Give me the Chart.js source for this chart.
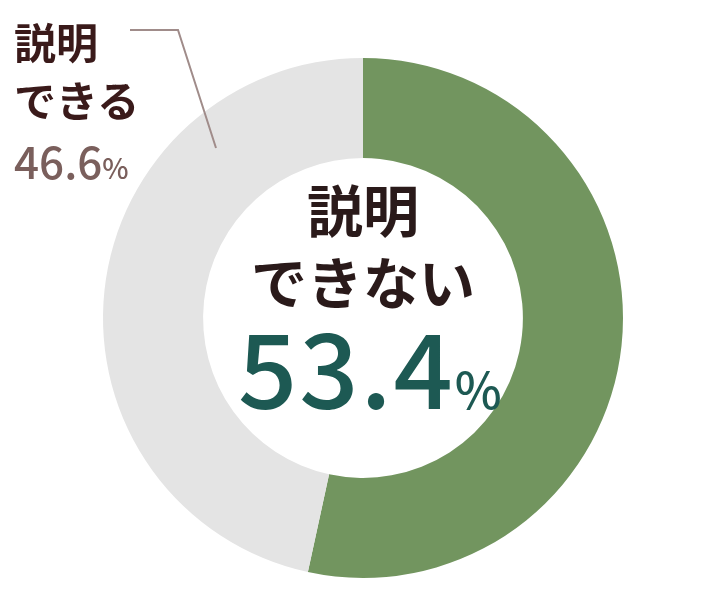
<!DOCTYPE html>
<html><head><meta charset="utf-8">
<script src="https://cdn.jsdelivr.net/npm/chart.js@4"></script>
<style>
body{margin:0;width:726px;height:600px;background:#fff;position:relative;overflow:hidden;font-family:"Noto Sans CJK JP",sans-serif;}
#c{position:absolute;left:0;top:0;}
.t{position:absolute;white-space:nowrap;font-weight:700;line-height:1;}
</style></head><body>
<canvas id="c" width="726" height="600"></canvas>
<svg style="position:absolute;left:0;top:0" width="726" height="600"><polyline points="130,30 178,30 216,148" fill="none" stroke="#a08c8a" stroke-width="2"/></svg>
<div class="t" style="left:14px;top:20px;font-size:42px;color:#3a1a1a">説明</div>
<div class="t" style="left:14px;top:78px;font-size:42px;color:#3a1a1a">できる</div>
<div class="t" style="left:14px;top:138px;font-size:44px;color:#7a5f5c;font-weight:500">46.6<span style="font-size:28px">%</span></div>
<div class="t" style="left:0;width:726px;text-align:center;top:180px;font-size:56px;color:#2a1a1a;">説明</div>
<div class="t" style="left:0;width:726px;text-align:center;top:252px;font-size:56px;color:#2a1a1a;">できない</div>
<div class="t" style="left:238px;top:312px;font-size:104px;color:#1d5953;font-weight:500;letter-spacing:2px">53.4<span style="font-size:50px">%</span></div>
<script>
const categories=["説明できない","説明できる"];
const values=[53.4,46.6];
const colors=["#72955f","#e4e4e4"];
new Chart(document.getElementById('c'),{type:'doughnut',
data:{labels:categories,datasets:[{data:values,backgroundColor:colors,borderWidth:0}]},
options:{responsive:false,animation:false,cutout:'61.5%',
layout:{padding:{left:103,right:103,top:58,bottom:22}},
plugins:{legend:{display:false},tooltip:{enabled:false}}}});
</script></body></html>
